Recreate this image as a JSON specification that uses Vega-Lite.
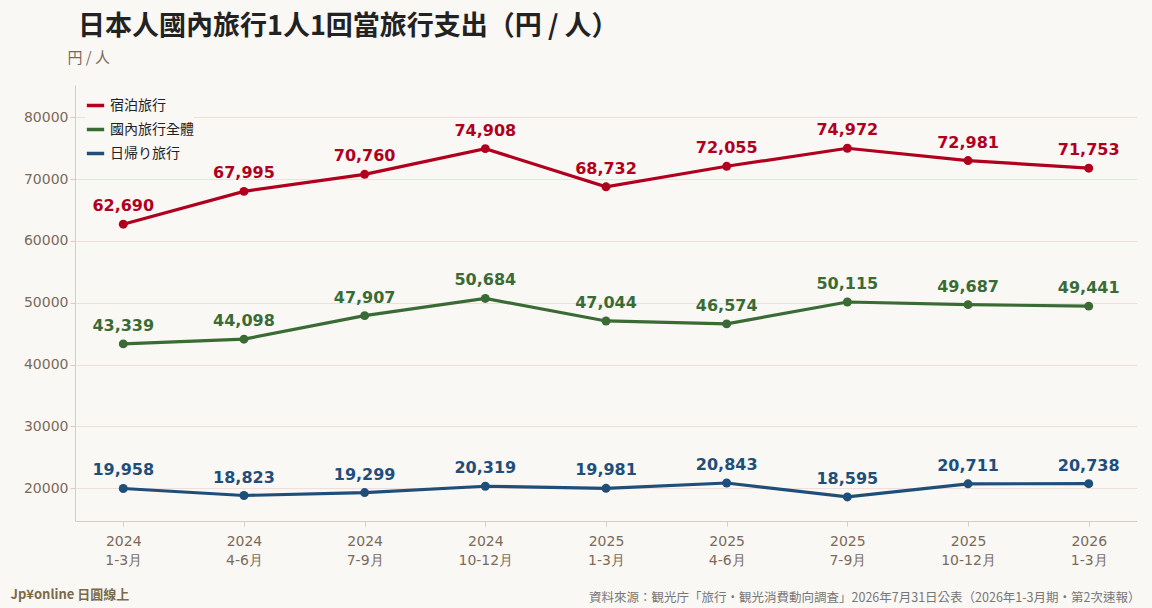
{
  "$schema": "https://vega.github.io/schema/vega-lite/v6.json",
  "width": 1062,
  "height": 436,
  "autosize": "none",
  "padding": {"left": 75, "top": 85, "right": 15, "bottom": 87},
  "background": "#faf8f5",
  "title": {"text": "日本人國內旅行1人1回當旅行支出（円 / 人）", "anchor": "start", "frame": "group", "fontSize": 27, "fontWeight": "bold", "color": "#222222", "offset": 9, "dx": 3, "font": "Noto Sans CJK TC"},
  "config": {
    "font": "Noto Sans CJK TC",
    "view": {"stroke": null},
    "axis": {"labelColor": "#7a6a5a", "labelFontSize": 14, "labelFont": "DejaVu Sans", "titleColor": "#7a6a5a", "titleFontWeight": "normal"}
  },
  "data": {"values": [
    {"p": "2024|1-3月", "s": "宿泊旅行", "v": 62690},
    {"p": "2024|4-6月", "s": "宿泊旅行", "v": 67995},
    {"p": "2024|7-9月", "s": "宿泊旅行", "v": 70760},
    {"p": "2024|10-12月", "s": "宿泊旅行", "v": 74908},
    {"p": "2025|1-3月", "s": "宿泊旅行", "v": 68732},
    {"p": "2025|4-6月", "s": "宿泊旅行", "v": 72055},
    {"p": "2025|7-9月", "s": "宿泊旅行", "v": 74972},
    {"p": "2025|10-12月", "s": "宿泊旅行", "v": 72981},
    {"p": "2026|1-3月", "s": "宿泊旅行", "v": 71753},
    {"p": "2024|1-3月", "s": "國內旅行全體", "v": 43339},
    {"p": "2024|4-6月", "s": "國內旅行全體", "v": 44098},
    {"p": "2024|7-9月", "s": "國內旅行全體", "v": 47907},
    {"p": "2024|10-12月", "s": "國內旅行全體", "v": 50684},
    {"p": "2025|1-3月", "s": "國內旅行全體", "v": 47044},
    {"p": "2025|4-6月", "s": "國內旅行全體", "v": 46574},
    {"p": "2025|7-9月", "s": "國內旅行全體", "v": 50115},
    {"p": "2025|10-12月", "s": "國內旅行全體", "v": 49687},
    {"p": "2026|1-3月", "s": "國內旅行全體", "v": 49441},
    {"p": "2024|1-3月", "s": "日帰り旅行", "v": 19958},
    {"p": "2024|4-6月", "s": "日帰り旅行", "v": 18823},
    {"p": "2024|7-9月", "s": "日帰り旅行", "v": 19299},
    {"p": "2024|10-12月", "s": "日帰り旅行", "v": 20319},
    {"p": "2025|1-3月", "s": "日帰り旅行", "v": 19981},
    {"p": "2025|4-6月", "s": "日帰り旅行", "v": 20843},
    {"p": "2025|7-9月", "s": "日帰り旅行", "v": 18595},
    {"p": "2025|10-12月", "s": "日帰り旅行", "v": 20711},
    {"p": "2026|1-3月", "s": "日帰り旅行", "v": 20738}
  ]},
  "encoding": {
    "x": {"field": "p", "type": "ordinal", "sort": null, "scale": {"type": "point", "padding": 0.4}},
    "y": {"field": "v", "type": "quantitative", "scale": {"domain": [14700, 85200], "nice": false, "zero": false}},
    "color": {"field": "s", "type": "nominal", "sort": ["宿泊旅行", "國內旅行全體", "日帰り旅行"],
      "scale": {"domain": ["宿泊旅行", "國內旅行全體", "日帰り旅行"], "range": ["#b0001e", "#3a6b35", "#1f4e79"]}}
  },
  "layer": [
    {
      "mark": {"type": "line", "strokeWidth": 3.2, "point": {"filled": true, "size": 80}},
      "encoding": {
        "x": {"field": "p", "type": "ordinal", "sort": null, "title": "資料來源：観光庁「旅行・観光消費動向調査」2026年7月31日公表（2026年1-3月期・第2次速報）",
          "axis": {"labelAngle": 0, "labelExpr": "split(datum.value, '|')", "labelLineHeight": 19, "labelPadding": 8, "tickColor": "#d8ccc8", "domainColor": "#d8ccc8",
            "titleAnchor": "end", "titleAlign": "right", "titleX": 1065, "titleY": 70, "titleFontSize": 12.5, "titleColor": "#777777"}},
        "y": {"field": "v", "type": "quantitative", "title": "円 / 人",
          "axis": {"values": [20000, 30000, 40000, 50000, 60000, 70000, 80000], "format": "d", "gridColor": "#f0dedb", "domainColor": "#d8ccc8", "tickColor": "#d8ccc8",
            "titleAngle": 0, "titleAlign": "left", "titleX": -8, "titleY": -20, "titleFontSize": 15}},
        "color": {"field": "s", "type": "nominal", "sort": ["宿泊旅行", "國內旅行全體", "日帰り旅行"],
          "legend": {"title": null, "orient": "none", "legendX": 10, "legendY": 10, "labelFontSize": 14, "labelColor": "#222222", "symbolType": "stroke", "symbolStrokeWidth": 3.5, "symbolSize": 300, "rowPadding": 6, "fillColor": "#faf8f5"}}
      }
    },
    {
      "mark": {"type": "text", "dy": -18, "fontSize": 16, "fontWeight": "bold", "font": "DejaVu Sans"},
      "encoding": {
        "x": {"field": "p", "type": "ordinal", "sort": null, "title": "Jp¥online 日圓線上",
          "axis": {"orient": "top", "labels": false, "ticks": false, "domain": false, "grid": false,
            "titleAnchor": "start", "titleAlign": "left", "titleX": -65, "titleY": 516, "titleFontSize": 13, "titleFontWeight": "bold", "titleColor": "#7a6a4a"}},
        "text": {"field": "v", "type": "quantitative", "format": ","},
        "color": {"field": "s", "type": "nominal", "legend": null}
      }
    }
  ],
  "resolve": {"axis": {"x": "independent"}}
}
